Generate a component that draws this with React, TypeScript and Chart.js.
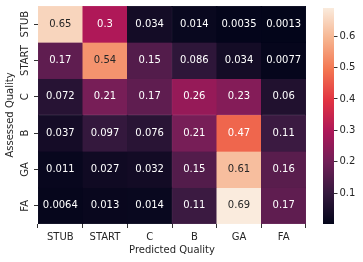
import React, { useEffect, useRef } from "react";
import { Chart, registerables } from "chart.js";
Chart.register(...registerables);

const predicted = ["STUB", "START", "C", "B", "GA", "FA"];
const assessed = ["STUB", "START", "C", "B", "GA", "FA"];
const rowSTUB = [0.65, 0.3, 0.034, 0.014, 0.0035, 0.0013];
const rowSTART = [0.17, 0.54, 0.15, 0.086, 0.034, 0.0077];
const rowC = [0.072, 0.21, 0.17, 0.26, 0.23, 0.06];
const rowB = [0.037, 0.097, 0.076, 0.21, 0.47, 0.11];
const rowGA = [0.011, 0.027, 0.032, 0.15, 0.61, 0.16];
const rowFA = [0.0064, 0.013, 0.014, 0.11, 0.69, 0.17];
const matrix = [rowSTUB, rowSTART, rowC, rowB, rowGA, rowFA];
const colorbarTicks = [0.1, 0.2, 0.3, 0.4, 0.5, 0.6];

const VMIN = Math.min(...matrix.flat());
const VMAX = Math.max(...matrix.flat());

const ROCKET: [number, number[]][] = [
  [0, [3, 5, 26]],
  [1 / 7, [53, 25, 62]],
  [2 / 7, [112, 31, 87]],
  [3 / 7, [173, 23, 89]],
  [4 / 7, [225, 51, 66]],
  [5 / 7, [243, 118, 81]],
  [6 / 7, [246, 180, 143]],
  [1, [250, 235, 221]],
];

function rocket(t: number): number[] {
  t = Math.max(0, Math.min(1, t));
  for (let i = 0; i < ROCKET.length - 1; i++) {
    const [p0, c0] = ROCKET[i];
    const [p1, c1] = ROCKET[i + 1];
    if (t <= p1) {
      const f = (t - p0) / (p1 - p0);
      return c0.map((v, k) => v + (c1[k] - v) * f);
    }
  }
  return ROCKET[ROCKET.length - 1][1];
}
const rgb = (c: number[]) => `rgb(${Math.round(c[0])},${Math.round(c[1])},${Math.round(c[2])})`;
const norm = (v: number) => (v - VMIN) / (VMAX - VMIN);
function luminance(c: number[]) {
  const lin = c.map((x) => {
    const s = x / 255;
    return s <= 0.03928 ? s / 12.92 : Math.pow((s + 0.055) / 1.055, 2.4);
  });
  return 0.2126 * lin[0] + 0.7152 * lin[1] + 0.0722 * lin[2];
}
const fmt = (v: number) => String(Number(v.toPrecision(2)));

const FONT = { family: "DejaVu Sans", size: 10 };
const TEXT = "#262626";

const annotate = {
  id: "annotate",
  afterDatasetsDraw(chart: any) {
    const ctx = chart.ctx;
    const xs = chart.scales.x;
    const ys = chart.scales.y;
    ctx.save();
    ctx.font = `${FONT.size}px ${FONT.family}`;
    ctx.textAlign = "center";
    ctx.textBaseline = "middle";
    matrix.forEach((row, r) => {
      row.forEach((v, c) => {
        const col = rocket(norm(v));
        ctx.fillStyle = luminance(col) > 0.36 ? TEXT : "#ffffff";
        ctx.fillText(fmt(v), xs.getPixelForValue(c), ys.getPixelForValue(assessed.length - 0.5 - r));
      });
    });
    // rotated y tick labels, placed on the y scale's own ticks
    ctx.fillStyle = TEXT;
    ys.ticks.forEach((t: any, i: number) => {
      const y = ys.getPixelForTick(i);
      const label = assessed[assessed.length - 1 - Math.floor(t.value)];
      ctx.save();
      ctx.translate(ys.right - 13, y);
      ctx.rotate(-Math.PI / 2);
      ctx.fillText(label, 0, 0);
      ctx.restore();
    });
    ctx.restore();
  },
};

export default function App() {
  const mainRef = useRef<HTMLCanvasElement>(null);
  const cbRef = useRef<HTMLCanvasElement>(null);

  useEffect(() => {
    const n = assessed.length;
    const datasets = assessed.map((name, r) => ({
      label: name,
      data: predicted.map(() => [n - 1 - r, n - r]),
      backgroundColor: matrix[r].map((v) => rgb(rocket(norm(v)))),
      borderColor: matrix[r].map((v) => rgb(rocket(norm(v)))),
      borderWidth: 0.5,
      borderSkipped: false,
      barPercentage: 1,
      categoryPercentage: 1,
      grouped: false,
    }));
    const main = new Chart(mainRef.current!, {
      type: "bar",
      data: { labels: predicted, datasets: datasets as any },
      options: {
        responsive: false,
        animation: false,
        layout: { padding: { top: 6, right: 57, left: 0, bottom: 0 } },
        plugins: { legend: { display: false }, tooltip: { enabled: false } },
        scales: {
          x: {
            type: "category",
            grid: { display: true, drawOnChartArea: false, drawTicks: true, tickLength: 4, color: "#333" },
            border: { display: false },
            ticks: { font: FONT, color: TEXT, padding: 3, autoSkip: false, maxRotation: 0 },
            title: { display: true, text: "Predicted Quality", font: FONT, color: TEXT, padding: { top: 1, bottom: 6 } },
            afterFit: (s: any) => { s.height = 38; },
          },
          y: {
            type: "linear",
            min: 0,
            max: n,
            afterBuildTicks: (s: any) => {
              s.ticks = assessed.map((_, i) => ({ value: i + 0.5 }));
            },
            grid: { display: true, drawOnChartArea: false, drawTicks: true, tickLength: 4, color: "#333" },
            border: { display: false },
            ticks: { display: false },
            title: { display: true, text: "Assessed Quality", font: FONT, color: TEXT, padding: { top: 4, bottom: 1 } },
            afterFit: (s: any) => { s.width = 38; },
          },
        },
      },
      plugins: [annotate],
    });

    const cb = new Chart(cbRef.current!, {
      type: "bar",
      data: {
        labels: ["cb"],
        datasets: [
          {
            data: [[VMIN, VMAX]] as any,
            backgroundColor: (ctx: any) => {
              const area = ctx.chart.chartArea;
              if (!area) return "#000";
              const g = ctx.chart.ctx.createLinearGradient(0, area.bottom, 0, area.top);
              ROCKET.forEach(([p, c]) => g.addColorStop(p, rgb(c)));
              return g;
            },
            borderWidth: 0,
            barPercentage: 1,
            categoryPercentage: 1,
          },
        ],
      },
      options: {
        responsive: false,
        animation: false,
        layout: { padding: { top: 6, bottom: 38, left: 0, right: 0 } },
        plugins: { legend: { display: false }, tooltip: { enabled: false } },
        scales: {
          x: { display: false },
          y: {
            position: "right",
            min: VMIN,
            max: VMAX,
            afterBuildTicks: (s: any) => {
              s.ticks = colorbarTicks.map((value) => ({ value }));
            },
            grid: { display: true, drawOnChartArea: false, drawTicks: true, tickLength: 3.5, color: "#333" },
            border: { display: false },
            ticks: { font: FONT, color: TEXT, padding: 2, callback: (v: any) => Number(v).toFixed(1) },
            afterFit: (s: any) => { s.width = 29; },
          },
        },
      },
    });

    return () => {
      main.destroy();
      cb.destroy();
    };
  }, []);

  return (
    <div style={{ position: "fixed", left: 0, top: 0, width: 363, height: 262, background: "#fff" }}>
      <canvas ref={mainRef} width={363} height={262} style={{ position: "absolute", left: 0, top: 0 }} />
      <canvas ref={cbRef} width={40} height={262} style={{ position: "absolute", left: 323, top: 0 }} />
    </div>
  );
}
